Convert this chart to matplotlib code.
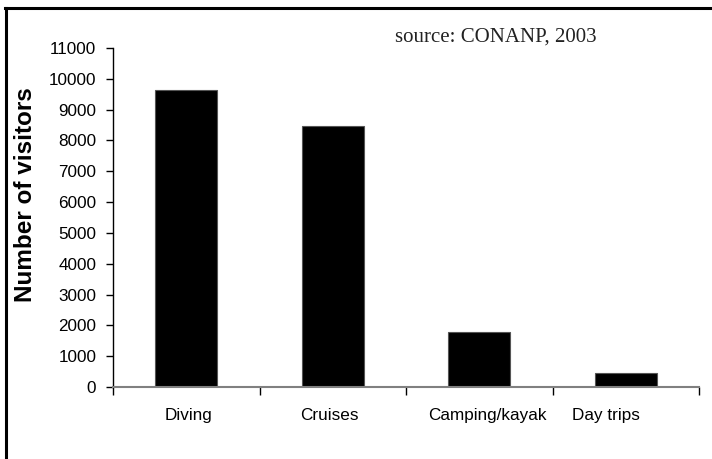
import matplotlib
matplotlib.use("Agg")
import matplotlib.pyplot as plt
import matplotlib.transforms as mtransforms
from matplotlib.lines import Line2D
import numpy as np

categories = ["Diving", "Cruises", "Camping/kayak", "Day trips"]
visitors = [9630, 8470, 1780, 450]
y_ticks = list(range(0, 11001, 1000))
label_shift_px = [2, -3, 8, -20]

plt.rcParams['font.family'] = ['Liberation Sans', 'DejaVu Sans']

fig = plt.figure(figsize=(7.12, 4.59), dpi=100)
ax = fig.add_axes([113/712, 1 - 387/459, (699 - 113)/712, (387 - 48)/459])

x = np.arange(len(categories)) + 0.5
ax.bar(x, visitors, width=0.42, color='black', edgecolor='#555555', linewidth=0.8)

ax.set_xlim(0, len(categories))
ax.set_ylim(0, 11000)
ax.set_yticks(y_ticks)
ax.set_yticklabels([str(v) for v in y_ticks], fontsize=12.3)

# major ticks at category boundaries, labels on minor ticks at centers
ax.set_xticks(np.arange(len(categories) + 1))
ax.set_xticklabels([])
ax.set_xticks(x, minor=True)
ax.set_xticklabels(categories, minor=True, fontsize=12.3)
ax.tick_params(axis='x', which='major', direction='out', length=6, width=1, color='black')
ax.tick_params(axis='x', which='minor', length=0, pad=15)
ax.tick_params(axis='y', direction='out', length=5, width=1, pad=7)

for lab, dx in zip(ax.xaxis.get_minorticklabels(), label_shift_px):
    lab.set_transform(lab.get_transform() + mtransforms.Affine2D().translate(dx, 0))

for s in ['top', 'right']:
    ax.spines[s].set_visible(False)
ax.spines['left'].set_color('black')
ax.spines['left'].set_linewidth(1)
ax.spines['bottom'].set_color('#808080')
ax.spines['bottom'].set_linewidth(1.5)

ax.set_ylabel("Number of visitors", fontsize=17.5, fontweight='bold')
ax.yaxis.set_label_coords(-(113 - 37)/586, (387 - 195)/339)

fig.text(496/712, 1 - 37/459, "source: CONANP, 2003", family=['Liberation Serif', 'DejaVu Serif'],
         fontsize=15, ha='center', va='center', color='#222222')

# partial frame border (left and top edges)
fig.add_artist(Line2D([5.5/712, 5.5/712], [0, 1 - 7.5/459], transform=fig.transFigure,
                      color='black', linewidth=2.2))
fig.add_artist(Line2D([4.5/712, 1], [1 - 7.5/459, 1 - 7.5/459], transform=fig.transFigure,
                      color='black', linewidth=2.2))

fig.savefig("out.png", dpi=100)
